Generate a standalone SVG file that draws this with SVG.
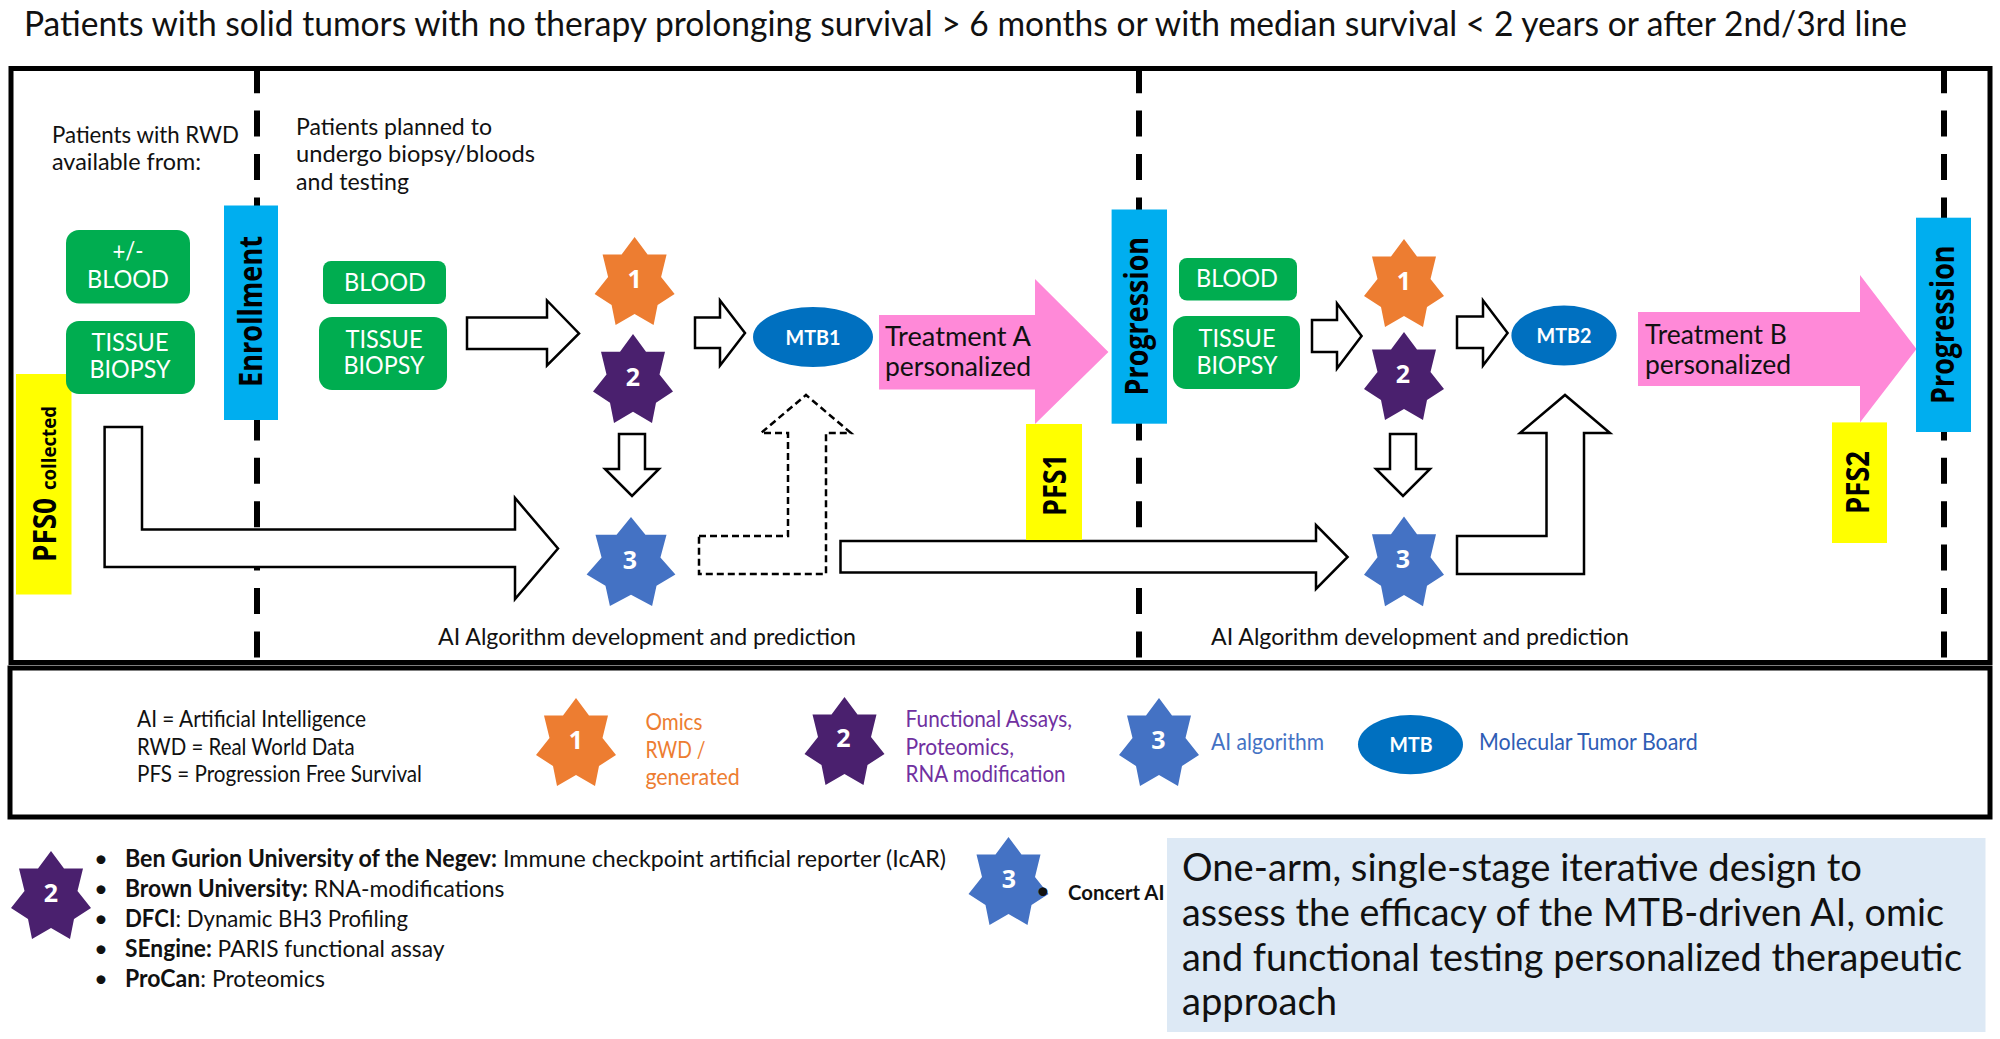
<svg xmlns="http://www.w3.org/2000/svg" width="2000" height="1039" viewBox="0 0 2000 1039">
<style>
text{font-family:"Lato","Liberation Sans",sans-serif;fill:#111}
.w{fill:#fff;text-anchor:middle;font-size:25px}
.dg{font-family:"Open Sans","Liberation Sans",sans-serif;font-weight:700;fill:#fff;text-anchor:middle;font-size:25px}
.mt{font-family:"Lato","Liberation Sans",sans-serif;font-weight:700;fill:#fff;text-anchor:middle;font-size:21px}
.rot{font-family:"Open Sans","Liberation Sans",sans-serif;font-weight:700;fill:#000;font-size:33px}
.t23{font-size:23px}.t24{font-size:24px}.t26{font-size:27px}.t22{font-size:23px}.t40{font-size:38.5px}
.b{font-weight:700}
.box{fill:none;stroke:#000;stroke-width:5}
.dash{stroke:#000;stroke-width:6;stroke-dasharray:26 17.4;fill:none}
.g{fill:#00AD50}.cy{fill:#00AEEF}.ye{fill:#FFFF00}.pk{fill:#FF89D8}.el{fill:#0070C0}
.a{fill:#fff;stroke:#000;stroke-width:2.5}
.ad{fill:#fff;stroke:#000;stroke-width:2.5;stroke-dasharray:7 4}
.or{fill:#ED7D31}.pu{fill:#4A206E}.bl{fill:#4472C4}
</style>
<defs>
<polygon id="s7" points="0,0 13,17.5 32,17.5 26.5,40 40,57 23,68 19,88 0,77 -19,88 -23,68 -40,57 -26.5,40 -32,17.5 -13,17.5"/>
</defs>

<text id="title" x="24" y="36" font-size="35" textLength="1883" lengthAdjust="spacingAndGlyphs">Patients with solid tumors with no therapy prolonging survival &gt; 6 months or with median survival &lt; 2 years or after 2nd/3rd line</text>

<rect id="frame-main" class="box" x="11" y="68.5" width="1979" height="594"/>
<rect id="frame-legend" class="box" x="10" y="668" width="1980" height="149"/>

<g id="timelines">
<line class="dash" x1="257" y1="67.2" x2="257" y2="660"/>
<line class="dash" x1="1139" y1="67.2" x2="1139" y2="660"/>
<line class="dash" x1="1944" y1="67.2" x2="1944" y2="660"/>
</g>

<g id="note-rwd">
<text class="t23" x="52" y="143" textLength="187" lengthAdjust="spacingAndGlyphs">Patients with RWD</text>
<text class="t23" x="52" y="170" textLength="149" lengthAdjust="spacingAndGlyphs">available from:</text>
</g>
<g id="note-planned">
<text class="t23" x="296" y="135" textLength="196" lengthAdjust="spacingAndGlyphs">Patients planned to</text>
<text class="t23" x="296" y="162" textLength="239" lengthAdjust="spacingAndGlyphs">undergo biopsy/bloods</text>
<text class="t23" x="296" y="190" textLength="113" lengthAdjust="spacingAndGlyphs">and testing</text>
</g>

<g id="pfs0">
<rect class="ye" x="16" y="374" width="55.5" height="220.5"/>
<text class="rot" transform="translate(55.5,562) rotate(-90)" textLength="64" lengthAdjust="spacingAndGlyphs">PFS0</text>
<text class="rot" transform="translate(55.5,490) rotate(-90)" style="font-size:20px" textLength="84" lengthAdjust="spacingAndGlyphs">collected</text>
</g>

<g id="connectors">
<polygon class="a" points="104.6,427 142,427 142,529.5 515,529.5 515,498 558,548.5 515,599 515,567 104.6,567"/>
<polygon class="a" points="467,317.5 547,317.5 547,300.5 579,333.5 547,365.5 547,349 467,349"/>
<polygon class="a" points="695,317.5 720,317.5 720,300.5 745,333 720,365.5 720,348 695,348"/>
<polygon class="a" points="619,434 645,434 645,469 659,469 632,496 605,469 619,469"/>
<polygon class="ad" points="699,536 788,536 788,433 761,433 806,395 851,433 826,433 826,574 699,574"/>
<polygon class="a" points="840.5,541 1316,541 1316,525 1347.6,557 1316,589 1316,572.5 840.5,572.5"/>
<polygon class="a" points="1312,320 1337,320 1337,303.5 1361.6,336 1337,368.6 1337,352 1312,352"/>
<polygon class="a" points="1457,316.5 1483,316.5 1483,300.5 1507.6,333 1483,365.5 1483,348 1457,348"/>
<polygon class="a" points="1390,434 1416,434 1416,469 1430,469 1403,496 1376,469 1390,469"/>
<polygon class="a" points="1457,536 1546.5,536 1546.5,433 1520,433 1565,395 1610,433 1584,433 1584,574 1457,574"/>
</g>

<g id="enrollment">
<rect class="cy" x="224" y="205.5" width="54" height="214.5"/>
<text class="rot" transform="translate(261.5,387) rotate(-90)" textLength="151" lengthAdjust="spacingAndGlyphs">Enrollment</text>
</g>

<g id="blood-rwd">
<rect class="g" x="66" y="230" width="124" height="73.5" rx="13"/>
<text class="w" x="128" y="260" textLength="31" lengthAdjust="spacingAndGlyphs">+/-</text>
<text class="w" x="128" y="288" textLength="82" lengthAdjust="spacingAndGlyphs">BLOOD</text>
</g>
<g id="tissue-rwd">
<rect class="g" x="66" y="321" width="129" height="73" rx="13"/>
<text class="w" x="130" y="351" textLength="77" lengthAdjust="spacingAndGlyphs">TISSUE</text>
<text class="w" x="130" y="378" textLength="81" lengthAdjust="spacingAndGlyphs">BIOPSY</text>
</g>
<g id="blood-1">
<rect class="g" x="323" y="261" width="123" height="43" rx="8"/>
<text class="w" x="385" y="291" textLength="82" lengthAdjust="spacingAndGlyphs">BLOOD</text>
</g>
<g id="tissue-1">
<rect class="g" x="319" y="317" width="128" height="73" rx="13"/>
<text class="w" x="384" y="348" textLength="77" lengthAdjust="spacingAndGlyphs">TISSUE</text>
<text class="w" x="384" y="374" textLength="81" lengthAdjust="spacingAndGlyphs">BIOPSY</text>
</g>
<g id="blood-2">
<rect class="g" x="1179" y="258" width="118" height="42.5" rx="8"/>
<text class="w" x="1237" y="287" textLength="82" lengthAdjust="spacingAndGlyphs">BLOOD</text>
</g>
<g id="tissue-2">
<rect class="g" x="1173" y="316" width="127" height="73" rx="13"/>
<text class="w" x="1237" y="347" textLength="77" lengthAdjust="spacingAndGlyphs">TISSUE</text>
<text class="w" x="1237" y="374" textLength="81" lengthAdjust="spacingAndGlyphs">BIOPSY</text>
</g>

<g id="star-1a"><use href="#s7" class="or" transform="translate(634.6,237)"/><text class="dg" x="634.6" y="288">1</text></g>
<g id="star-2a"><use href="#s7" class="pu" transform="translate(633,334) scale(1,1.01)"/><text class="dg" x="633" y="386">2</text></g>
<g id="star-3a"><use href="#s7" class="bl" transform="translate(631,517) scale(1.11,1.01)"/><text class="dg" x="630" y="569">3</text></g>
<g id="star-1b"><use href="#s7" class="or" transform="translate(1404,239)"/><text class="dg" x="1404" y="290">1</text></g>
<g id="star-2b"><use href="#s7" class="pu" transform="translate(1404,332)"/><text class="dg" x="1403" y="382.5">2</text></g>
<g id="star-3b"><use href="#s7" class="bl" transform="translate(1404,516.5) scale(1,1.02)"/><text class="dg" x="1403" y="568">3</text></g>

<g id="mtb1"><ellipse class="el" cx="813" cy="337" rx="60" ry="30"/><text class="mt" x="813" y="345" textLength="55" lengthAdjust="spacingAndGlyphs">MTB1</text></g>
<g id="mtb2"><ellipse class="el" cx="1564" cy="335.6" rx="52.6" ry="30"/><text class="mt" x="1564" y="343" textLength="55" lengthAdjust="spacingAndGlyphs">MTB2</text></g>

<g id="treatment-a">
<polygon class="pk" points="879,315 1035,315 1035,279 1108.4,352 1035,424 1035,389.5 879,389.5"/>
<text class="t26" x="885" y="346" textLength="146" lengthAdjust="spacingAndGlyphs">Treatment A</text>
<text class="t26" x="885" y="376" textLength="146" lengthAdjust="spacingAndGlyphs">personalized</text>
</g>
<g id="treatment-b">
<polygon class="pk" points="1638,312 1860,312 1860,275 1916.5,349 1860,422.4 1860,386 1638,386"/>
<text class="t26" x="1645" y="343.5" textLength="142" lengthAdjust="spacingAndGlyphs">Treatment B</text>
<text class="t26" x="1645" y="373.5" textLength="146" lengthAdjust="spacingAndGlyphs">personalized</text>
</g>

<g id="progression-1">
<rect class="cy" x="1111.6" y="209.5" width="55.4" height="214.2"/>
<text class="rot" transform="translate(1148,395.5) rotate(-90)" textLength="158.5" lengthAdjust="spacingAndGlyphs">Progression</text>
</g>
<g id="progression-2">
<rect class="cy" x="1916" y="217.7" width="55" height="214.3"/>
<text class="rot" transform="translate(1953.5,404) rotate(-90)" textLength="158.5" lengthAdjust="spacingAndGlyphs">Progression</text>
</g>
<g id="pfs1">
<rect class="ye" x="1026" y="424" width="56" height="116"/>
<text class="rot" transform="translate(1065.7,516) rotate(-90)" textLength="62" lengthAdjust="spacingAndGlyphs">PFS1</text>
</g>
<g id="pfs2">
<rect class="ye" x="1832" y="422.4" width="55" height="120.6"/>
<text class="rot" transform="translate(1869,514) rotate(-90)" textLength="63" lengthAdjust="spacingAndGlyphs">PFS2</text>
</g>

<text id="ai-label-1" class="t24" x="438" y="645" textLength="418" lengthAdjust="spacingAndGlyphs">AI Algorithm development and prediction</text>
<text id="ai-label-2" class="t24" x="1211" y="645" textLength="418" lengthAdjust="spacingAndGlyphs">AI Algorithm development and prediction</text>

<g id="legend-abbrev">
<text class="t22" x="137" y="727" textLength="229" lengthAdjust="spacingAndGlyphs">AI = Artificial Intelligence</text>
<text class="t22" x="137" y="755" textLength="217.6" lengthAdjust="spacingAndGlyphs">RWD = Real World Data</text>
<text class="t22" x="137" y="781.5" textLength="285" lengthAdjust="spacingAndGlyphs">PFS = Progression Free Survival</text>
</g>
<g id="legend-1">
<use href="#s7" class="or" transform="translate(576,698)"/><text class="dg" x="576" y="749">1</text>
<text class="t22" style="fill:#ED7D31" x="645.4" y="729.5" textLength="57" lengthAdjust="spacingAndGlyphs">Omics</text>
<text class="t22" style="fill:#ED7D31" x="645.4" y="758" textLength="60" lengthAdjust="spacingAndGlyphs">RWD /</text>
<text class="t22" style="fill:#ED7D31" x="645.4" y="784.5" textLength="94.4" lengthAdjust="spacingAndGlyphs">generated</text>
</g>
<g id="legend-2">
<use href="#s7" class="pu" transform="translate(844.5,697)"/><text class="dg" x="843.5" y="747">2</text>
<text class="t22" style="fill:#7030A0" x="905.6" y="727" textLength="166.5" lengthAdjust="spacingAndGlyphs">Functional Assays,</text>
<text class="t22" style="fill:#7030A0" x="905.6" y="755" textLength="108.4" lengthAdjust="spacingAndGlyphs">Proteomics,</text>
<text class="t22" style="fill:#7030A0" x="905.6" y="781.5" textLength="160" lengthAdjust="spacingAndGlyphs">RNA modification</text>
</g>
<g id="legend-3">
<use href="#s7" class="bl" transform="translate(1159,698)"/><text class="dg" x="1158.5" y="749">3</text>
<text class="t22" style="fill:#4472C4" x="1211" y="750" textLength="113" lengthAdjust="spacingAndGlyphs">AI algorithm</text>
</g>
<g id="legend-mtb">
<ellipse class="el" cx="1410.5" cy="744.6" rx="52.5" ry="29.6"/>
<text class="mt" x="1411" y="752" textLength="43" lengthAdjust="spacingAndGlyphs">MTB</text>
<text class="t22" style="fill:#2F5DB5" x="1479" y="749.5" textLength="218.7" lengthAdjust="spacingAndGlyphs">Molecular Tumor Board</text>
</g>

<g id="sites-2">
<use href="#s7" class="pu" transform="translate(51,851)"/><text class="dg" x="51" y="902">2</text>
<text class="t24" x="101" y="866.5" text-anchor="middle">•</text>
<text class="t24" x="125" y="866.5" textLength="821" lengthAdjust="spacingAndGlyphs"><tspan class="b">Ben Gurion University of the Negev:</tspan> Immune checkpoint artificial reporter (IcAR)</text>
<text class="t24" x="101" y="896.5" text-anchor="middle">•</text>
<text class="t24" x="125" y="896.5" textLength="379.5" lengthAdjust="spacingAndGlyphs"><tspan class="b">Brown University:</tspan> RNA-modifications</text>
<text class="t24" x="101" y="927" text-anchor="middle">•</text>
<text class="t24" x="125" y="927" textLength="283" lengthAdjust="spacingAndGlyphs"><tspan class="b">DFCI</tspan>: Dynamic BH3 Profiling</text>
<text class="t24" x="101" y="957" text-anchor="middle">•</text>
<text class="t24" x="125" y="957" textLength="319.5" lengthAdjust="spacingAndGlyphs"><tspan class="b">SEngine:</tspan> PARIS functional assay</text>
<text class="t24" x="101" y="987" text-anchor="middle">•</text>
<text class="t24" x="125" y="987" textLength="200" lengthAdjust="spacingAndGlyphs"><tspan class="b">ProCan</tspan>: Proteomics</text>
</g>
<g id="sites-3">
<use href="#s7" class="bl" transform="translate(1008.5,837)"/><text class="dg" x="1009" y="888">3</text>
<text class="t24" x="1043" y="899" text-anchor="middle">•</text>
<text class="b" font-size="20" x="1068" y="899.5" textLength="96.5" lengthAdjust="spacingAndGlyphs">Concert AI</text>
</g>
<g id="summary">
<rect x="1167" y="838" width="818.5" height="194" fill="#DDE9F5"/>
<text class="t40" x="1182" y="881" textLength="680" lengthAdjust="spacingAndGlyphs">One-arm, single-stage iterative design to</text>
<text class="t40" x="1182" y="926" textLength="762" lengthAdjust="spacingAndGlyphs">assess the efficacy of the MTB-driven AI, omic</text>
<text class="t40" x="1182" y="970.5" textLength="780" lengthAdjust="spacingAndGlyphs">and functional testing personalized therapeutic</text>
<text class="t40" x="1182" y="1014.5" textLength="155" lengthAdjust="spacingAndGlyphs">approach</text>
</g>
</svg>
